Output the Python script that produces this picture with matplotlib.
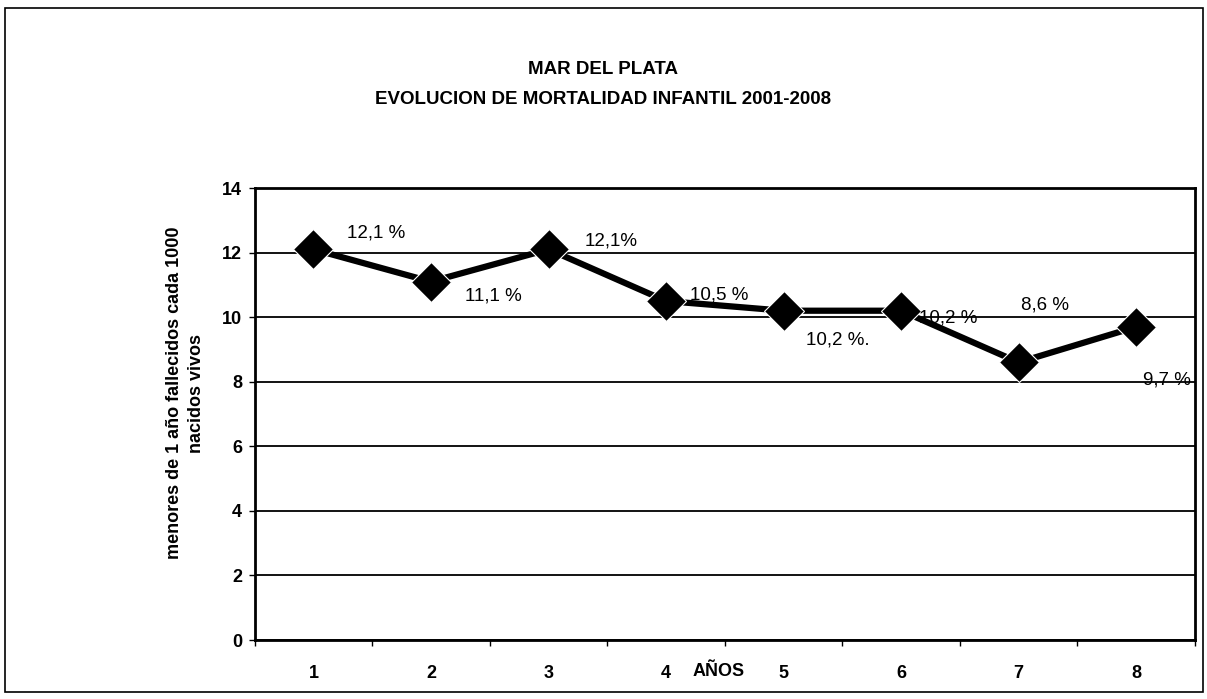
import matplotlib.pyplot as plt
from matplotlib.patches import Rectangle

plt.rcParams["font.family"] = ["Liberation Sans", "DejaVu Sans"]
plt.rcParams["font.weight"] = "bold"

years = [1, 2, 3, 4, 5, 6, 7, 8]
rate = [12.1, 11.1, 12.1, 10.5, 10.2, 10.2, 8.6, 9.7]
point_labels = ["12,1 %", "11,1 %", "12,1%", "10,5 %", "10,2 %.", "10,2 %", "8,6 %", "9,7 %"]
# label offsets in points from each marker
offsets = [(45, 12), (45, -10), (45, 6), (38, 4), (39, -21), (34, -5), (19, 41), (22, -38)]
y_ticks = [0, 2, 4, 6, 8, 10, 12, 14]

fig = plt.figure(figsize=(12.07, 6.99), dpi=100)
fig.patch.set_facecolor("white")

# outer frame of the chart area
fig.patches.append(Rectangle((0.004, 0.01), 0.993, 0.978, transform=fig.transFigure,
                             fill=False, edgecolor="black", linewidth=1.2))

ax = fig.add_axes([0.211, 0.0844, 0.779, 0.6466])
ax.plot(years, rate, color="black", linewidth=4.5, marker="D", markersize=20,
        markerfacecolor="black", markeredgecolor="white", markeredgewidth=0.8, zorder=3)

for x, v, lab, off in zip(years, rate, point_labels, offsets):
    ax.annotate(lab, (x, v), xytext=off, textcoords="offset points",
                ha="center", va="center", fontsize=13.5, fontweight="normal")

ax.set_xlim(0.5, 8.5)
ax.set_ylim(0, 14)
ax.set_yticks(y_ticks)
ax.yaxis.grid(True, color="black", linewidth=1.3)
ax.set_axisbelow(True)

ax.set_xticks(years)
ax.set_xticks([x + 0.5 for x in [0] + years], minor=True)
ax.tick_params(axis="x", which="major", length=0, pad=18, labelsize=13)
ax.tick_params(axis="x", which="minor", length=4, width=1)
ax.tick_params(axis="y", length=4, width=1, labelsize=13, pad=5)

for s in ax.spines.values():
    s.set_linewidth(2)
    s.set_color("black")

ax.text(4.45, -0.07, "AÑOS", transform=ax.get_xaxis_transform(), ha="center",
        va="center", fontsize=13, fontweight="bold")

ax.set_ylabel("menores de 1 año fallecidos cada 1000\nnacidos vivos", fontsize=13,
              fontweight="bold", linespacing=1.4)
ax.yaxis.set_label_coords(-0.053, 0.546)

fig.text(0.5, 0.9, "MAR DEL PLATA", ha="center", va="center", fontsize=13.5, fontweight="bold")
fig.text(0.5, 0.857, "EVOLUCION DE MORTALIDAD INFANTIL 2001-2008", ha="center", va="center",
         fontsize=13.5, fontweight="bold")

fig.savefig("out.png", dpi=100, facecolor="white")
